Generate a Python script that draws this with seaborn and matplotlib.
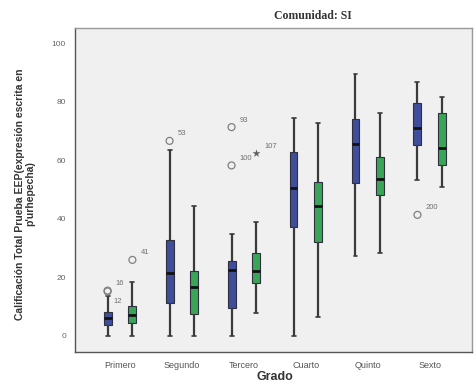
import matplotlib
matplotlib.use("Agg")
import matplotlib.pyplot as plt
import numpy as np
import pandas as pd
import seaborn as sns

# ---- data ----
grados = ["Primero", "Segundo", "Tercero", "Cuarto", "Quinto", "Sexto"]
grupos = ["Grupo 1", "Grupo 2"]
colores = ["#3f4e9a", "#3aa557"]

# five-number summaries [whisker low, Q1, median, Q3, whisker high]
resumen_grupo1 = [
    [0.0, 3.6, 6.2, 8.2, 13.5],
    [0.0, 11.3, 21.5, 32.8, 63.5],
    [0.0, 9.4, 22.4, 25.6, 35.0],
    [0.0, 37.3, 50.5, 63.0, 74.5],
    [27.4, 52.3, 65.6, 74.2, 89.6],
    [53.3, 65.3, 71.1, 79.7, 86.8],
]
resumen_grupo2 = [
    [0.0, 4.4, 7.0, 10.3, 18.5],
    [0.0, 7.5, 16.8, 22.2, 44.4],
    [7.9, 18.1, 22.2, 28.4, 39.0],
    [6.5, 32.1, 44.4, 52.6, 72.8],
    [28.4, 48.2, 53.7, 61.2, 76.2],
    [51.0, 58.5, 64.3, 76.2, 81.7],
]

# outliers
out_grado = ["Primero", "Primero", "Primero", "Segundo", "Tercero", "Tercero", "Tercero", "Sexto"]
out_grupo = ["Grupo 1", "Grupo 1", "Grupo 2", "Grupo 1", "Grupo 1", "Grupo 1", "Grupo 2", "Grupo 1"]
out_valor = [15.5, 15.2, 26.0, 66.7, 71.4, 58.3, 62.5, 41.4]
out_id = ["16", "12", "41", "53", "93", "100", "107", "200"]
out_extremo = [False, False, False, False, False, False, True, False]

# ---- tables ----
filas = []
for grp, resumen in zip(grupos, [resumen_grupo1, resumen_grupo2]):
    for g, vals in zip(grados, resumen):
        for v in vals:
            filas.append({"Grado": g, "Grupo": grp, "valor": v})
df = pd.DataFrame(filas)
out = pd.DataFrame({"Grado": out_grado, "Grupo": out_grupo, "valor": out_valor,
                    "id": out_id, "extremo": out_extremo})

sns.set_style("white")
plt.rcParams["font.family"] = ["Liberation Sans", "DejaVu Sans"]

W, H = 474, 388
fig = plt.figure(figsize=(W / 100, H / 100), dpi=100)
ax = fig.add_axes([75 / W, 1 - 352 / H, (472 - 75) / W, (352 - 28) / H])
ax.set_facecolor("#f0f0f0")

pal = dict(zip(grupos, colores))
sns.boxplot(data=df, x="Grado", y="valor", hue="Grupo", order=grados, hue_order=grupos,
            palette=pal, saturation=1, whis=(0, 100), width=0.8, gap=0.68,
            linecolor="#2e3040", linewidth=0.8,
            medianprops=dict(color="#111111", linewidth=2),
            whiskerprops=dict(color="#3a3a3a", linewidth=1.6),
            capprops=dict(color="#3a3a3a", linewidth=1.2),
            legend=False, ax=ax)

n0 = len(ax.collections)
sns.stripplot(data=out[~out["extremo"]], x="Grado", y="valor", hue="Grupo",
              order=grados, hue_order=grupos, palette=pal, dodge=True, jitter=False,
              size=5, linewidth=0.9, edgecolor="#808080", legend=False, ax=ax)
for c in ax.collections[n0:]:
    c.set_facecolor("none")
    c.set_edgecolor("#808080")
n1 = len(ax.collections)
sns.stripplot(data=out[out["extremo"]], x="Grado", y="valor", hue="Grupo",
              order=grados, hue_order=grupos, palette=pal, dodge=True, jitter=False,
              marker="*", size=6, linewidth=0, legend=False, ax=ax)
for c in ax.collections[n1:]:
    c.set_facecolor("#606060")
    c.set_edgecolor("#606060")

offsets = {"12": (4, -7)}
for g, grp, v, i in zip(out_grado, out_grupo, out_valor, out_id):
    x = grados.index(g) + (-0.2 if grp == grupos[0] else 0.2)
    ax.annotate(i, (x, v), xytext=offsets.get(i, (6, 5)), textcoords="offset points",
                fontsize=5.5, color="#707070", ha="left", va="center")

ax.set_xlim(-0.726, 5.68)
ax.set_ylim(-5.5, 105.3)
ax.set_yticks([0, 20, 40, 60, 80, 100])
ax.set_xlabel("")
ax.set_ylabel("")
ax.tick_params(axis="both", direction="out", length=3, width=0.8, colors="#555555")
ax.tick_params(axis="y", labelsize=6, labelcolor="#666666")
ax.tick_params(axis="x", labelsize=6.5, labelcolor="#555555")
for s in ["left", "bottom"]:
    ax.spines[s].set_color("#555555")
    ax.spines[s].set_linewidth(1.0)
for s in ["top", "right"]:
    ax.spines[s].set_color("#999999")
    ax.spines[s].set_linewidth(1.0)

fig.text(313 / W, 1 - 16 / H, "Comunidad: SI", ha="center", va="center",
         fontfamily="Liberation Serif", fontweight="bold", fontsize=8.5, color="#333333")
fig.text(275 / W, 1 - 377 / H, "Grado", ha="center", va="center",
         fontweight="bold", fontsize=9, color="#333333")
fig.text(25 / W, 1 - 194 / H,
         "Calificación Total Prueba EEP(expresión escrita en\np'urhepecha)",
         rotation=90, ha="center", va="center", multialignment="center",
         fontweight="bold", fontsize=7.5, color="#333333", linespacing=1.1)

fig.savefig("out.png", dpi=100, facecolor="white")
